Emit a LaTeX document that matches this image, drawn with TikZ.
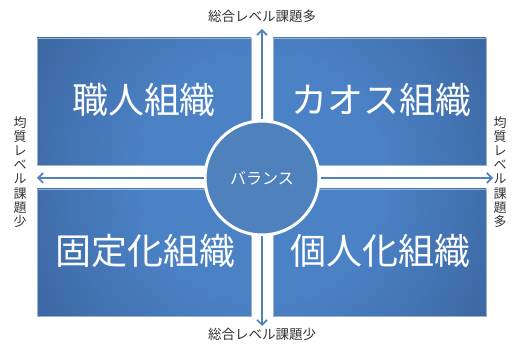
\documentclass[tikz,border=0pt]{standalone}
\usepackage{fontspec}
\setmainfont{Noto Sans CJK JP}
\usetikzlibrary{arrows.meta}
\definecolor{qdark}{HTML}{284674}
\definecolor{qlight}{HTML}{4B82C6}
\definecolor{cfill}{HTML}{4F81BD}
\definecolor{arr}{HTML}{4F81BD}
\definecolor{edge}{HTML}{9DB3CC}
\definecolor{lbl}{HTML}{333333}
\pgfdeclareradialshading{qshade}{\pgfpoint{0bp}{0bp}}{color(0bp)=(qlight); color(10bp)=(qlight); color(41bp)=(qdark); color(50bp)=(qdark)}
\tikzset{
  quadtext/.style={text=white,font=\fontsize{36}{40}\selectfont,inner sep=0pt},
  axislbl/.style={text=lbl,font=\fontsize{13.5}{14}\selectfont,inner sep=0pt},
  vlbl/.style={text=lbl,font=\fontsize{13}{14.1}\selectfont,align=center,inner sep=0pt},
  axisarrow/.style={draw=arr,line width=1.8pt,-{Straight Barb[length=5pt,width=10pt,line width=1.6pt]}},
}
\newcommand{\quadblock}[5]{%
  \begin{scope}
    \clip (#1,#2) rectangle (#3,#4);
    \shade[shading=qshade] #5 circle (262);
  \end{scope}
  \draw[edge,line width=0.6pt] (#1,#2) rectangle (#3,#4);
}
\begin{document}
\begin{tikzpicture}[x=1pt,y=-1pt]
\useasboundingbox (0,0) rectangle (512,347);
\fill[white] (0,0) rectangle (512,347);
\quadblock{37}{38}{251}{165}{(251,165)}
\quadblock{273}{38}{486}{165}{(273,165)}
\quadblock{37}{189}{251}{316}{(251,189)}
\quadblock{273}{189}{486}{316}{(273,189)}

\node[quadtext] (q1) at (144,100) {職人組織};
\node[quadtext] (q2) at (381,100) {カオス組織};
\node[quadtext] (q3) at (146,251) {固定化組織};
\node[quadtext] (q4) at (380,251) {個人化組織};

\node[circle,fill=cfill,draw=white,line width=3pt,minimum size=114pt,inner sep=0pt,
  text=white,font=\fontsize{16}{18}\selectfont] (c) at (262,178) {バランス};

\coordinate (tU) at (262,29);
\coordinate (tD) at (262,326);
\coordinate (tL) at (37,178);
\coordinate (tR) at (493,178);
\draw[axisarrow] (c.north) -- (tU);
\draw[axisarrow] (c.south) -- (tD);
\draw[axisarrow] (c.west) -- (tL);
\draw[axisarrow] (c.east) -- (tR);

\node[axislbl] (top) at (262,16) {総合レベル課題多};
\node[axislbl] (bot) at (262,334) {総合レベル課題少};
\node[vlbl] (left) at (20,172) {均\\質\\レ\\ベ\\ル\\課\\題\\少};
\node[vlbl] (right) at (500,172) {均\\質\\レ\\ベ\\ル\\課\\題\\多};
\end{tikzpicture}
\end{document}
